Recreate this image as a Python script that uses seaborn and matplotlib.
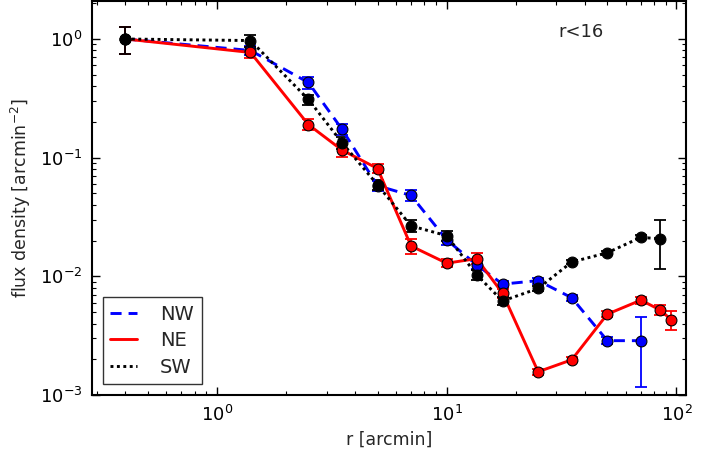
import matplotlib
matplotlib.use("Agg")
import matplotlib.pyplot as plt
from matplotlib.lines import Line2D
import numpy as np
import pandas as pd
import seaborn as sns

# ---- data ----
r_nw = [0.4, 1.4, 2.5, 3.5, 5.0, 7.0, 10.0, 13.5, 17.5, 25.0, 35.0, 50.0, 70.0]
f_nw = [1.0, 0.80, 0.43, 0.174, 0.058, 0.048, 0.0203, 0.0125, 0.0086, 0.0092, 0.0066, 0.00287, 0.00287]
e_nw = [0.25, 0.07, 0.05, 0.02, 0.006, 0.005, 0.002, 0.001, 0.0006, 0.0005, 0.0004, 0.0002, 0.0017]

r_ne = [0.4, 1.4, 2.5, 3.5, 5.0, 7.0, 10.0, 13.5, 17.5, 25.0, 35.0, 50.0, 70.0, 85.0, 95.0]
f_ne = [1.0, 0.77, 0.19, 0.116, 0.081, 0.018, 0.0129, 0.0141, 0.0072, 0.00157, 0.00198, 0.0048, 0.0063, 0.0052, 0.0043]
e_ne = [0.25, 0.08, 0.02, 0.015, 0.007, 0.0025, 0.001, 0.0015, 0.0006, 0.0001, 0.0001, 0.0003, 0.0004, 0.0005, 0.0008]

r_sw = [0.4, 1.4, 2.5, 3.5, 5.0, 7.0, 10.0, 13.5, 17.5, 25.0, 35.0, 50.0, 70.0, 85.0]
f_sw = [1.0, 0.97, 0.31, 0.134, 0.059, 0.0266, 0.022, 0.0103, 0.0062, 0.0079, 0.0132, 0.0158, 0.0213, 0.0207]
e_sw = [0.25, 0.12, 0.03, 0.015, 0.006, 0.003, 0.002, 0.001, 0.0005, 0.0004, 0.0005, 0.0006, 0.0008, 0.0092]

regions = ["NW", "NE", "SW"]
colors = {"NW": "#0000ff", "NE": "#ff0000", "SW": "#000000"}
dashes = {"NW": (3.8, 2.4), "NE": "", "SW": (1.0, 1.2)}
annotation = "r<16"

df = pd.concat([
    pd.DataFrame({"r": r_nw, "flux": f_nw, "err": e_nw, "region": "NW"}),
    pd.DataFrame({"r": r_ne, "flux": f_ne, "err": e_ne, "region": "NE"}),
    pd.DataFrame({"r": r_sw, "flux": f_sw, "err": e_sw, "region": "SW"}),
], ignore_index=True)

sns.set_style("ticks", {
    "xtick.direction": "in", "ytick.direction": "in",
    "axes.edgecolor": "black",
})
plt.rcParams["font.family"] = ["DejaVu Sans"]
plt.rcParams["mathtext.default"] = "regular"

fig = plt.figure(figsize=(7.17, 4.62), dpi=100)
ax = fig.add_axes([92 / 717, 1 - 395 / 462, (686 - 92) / 717, (395 - 1) / 462])

lw = 2.1
for i, reg in enumerate(regions):
    sub = df[df.region == reg]
    ax.errorbar(sub["r"], sub["flux"], yerr=sub["err"], fmt="none",
                ecolor=colors[reg], elinewidth=1.3, capsize=4, capthick=1.3,
                zorder=2 + i * 0.1)

sns.lineplot(data=df, x="r", y="flux", hue="region", style="region",
             hue_order=regions, style_order=regions, palette=colors,
             dashes=dashes, sort=False, estimator=None, linewidth=lw,
             legend=False, ax=ax, zorder=3)
for i, reg in enumerate(regions):
    sub = df[df.region == reg]
    ax.plot(sub["r"], sub["flux"], linestyle="none", marker="o",
            markersize=7.8, markerfacecolor=colors[reg],
            markeredgecolor="black", markeredgewidth=0.8, zorder=4 + i * 0.1)

ax.set_xscale("log")
ax.set_yscale("log")
ax.set_xlim(0.286, 110)
ax.set_ylim(1e-3, 2.09)

ax.tick_params(which="both", direction="in", top=True, right=True,
               labelsize=13, colors="black")
ax.tick_params(which="major", length=6, width=1, pad=7)
ax.tick_params(which="minor", length=3, width=0.8)
for s in ax.spines.values():
    s.set_linewidth(1.5)

ax.set_xlabel("r [arcmin]", fontsize=12.5, labelpad=4)
ax.set_ylabel(r"flux density [arcmin$^{-2}$]", fontsize=12.5, labelpad=5)

ax.text(0.823, 0.921, annotation, transform=ax.transAxes, fontsize=13,
        ha="center", va="center")

handles = []
for reg in regions:
    h = Line2D([0], [0], color=colors[reg], linewidth=lw)
    if dashes[reg]:
        h.set_dashes(dashes[reg])
    handles.append(h)
leg = ax.legend(handles, regions, loc="lower left", fontsize=14,
                frameon=True, fancybox=False, handlelength=1.35,
                borderaxespad=0.55, borderpad=0.4, labelspacing=0.38,
                handletextpad=1.2)
leg.get_frame().set_edgecolor("black")
leg.get_frame().set_linewidth(1.0)

fig.savefig("out.png", dpi=100)
